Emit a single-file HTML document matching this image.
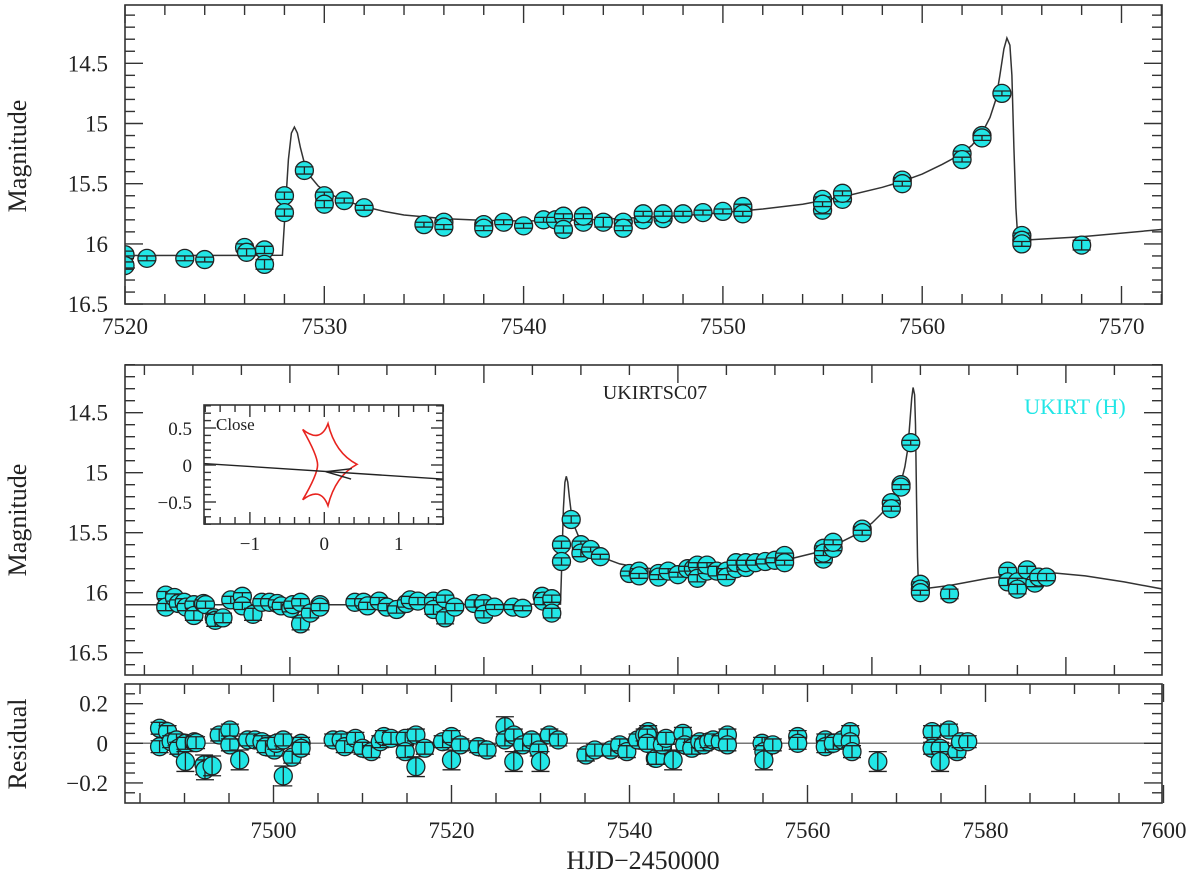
<!DOCTYPE html>
<html><head><meta charset="utf-8"><title>UKIRTSC07 light curve</title>
<style>
html,body{margin:0;padding:0;background:#fff;}
svg{display:block;font-family:"Liberation Serif",serif;}
</style></head>
<body>
<svg id="chart" width="1200" height="879" viewBox="0 0 1200 879" xmlns="http://www.w3.org/2000/svg">
<defs>
<clipPath id="clipTop"><rect x="125" y="5" width="1037" height="299"/></clipPath>
<clipPath id="clipMid"><rect x="125" y="365" width="1037" height="310"/></clipPath>
<clipPath id="clipRes"><rect x="125" y="684" width="1037" height="119"/></clipPath>
<clipPath id="clipIn"><rect x="204" y="405" width="239" height="119"/></clipPath>
</defs>
<g id="gTop"></g>
<g id="gMid"></g>
<g id="gRes"></g>
<g id="gIn"></g>
<text x="0" y="0" transform="translate(26,156) rotate(-90)" text-anchor="middle" font-size="26" fill="#222">Magnitude</text>
<text x="0" y="0" transform="translate(26,520) rotate(-90)" text-anchor="middle" font-size="26" fill="#222">Magnitude</text>
<text x="0" y="0" transform="translate(26,744) rotate(-90)" text-anchor="middle" font-size="26" fill="#222">Residual</text>
<text x="643" y="869" text-anchor="middle" font-size="26" fill="#222">HJD−2450000</text>
<text x="655" y="399" text-anchor="middle" font-size="20" fill="#222">UKIRTSC07</text>
<text x="1075" y="414" text-anchor="middle" font-size="22" fill="#22e6e6">UKIRT (H)</text>
</svg>
<script>
// ---------- data ----------
const magT = [7487.2,7487.2,7488.1,7488.5,7489.1,7489.3,7490.1,7490.1,7491.1,7491.3,7492.2,7492.3,7493.1,7493.9,7495.1,7495.1,7496.2,7497.1,7497.9,7498.7,7499.1,7500.1,7500.3,7501.1,7501.1,7502.1,7503.1,7503.1,7506.7,7507.6,7508.0,7509.2,7510.0,7511.0,7512.0,7512.4,7513.2,7514.8,7514.8,7516.0,7516.0,7517.0,7519.0,
7520,7520,7521.1,7523,7524,7526,7526.1,7527,7527,7528,7528,7529,7530,7530,7531,7532,7535,7536,7536,7538,7538,7539,7540,7541,7541.6,7542,7542,7543,7543,7544,7545,7545,7546,7546,7547,7547,7548,7549,7550,7551,7551,7551,7555,7555,7555,7556,7556,7559,7559,7562,7562,7563,7563,7564,7565,7565,7565,7568,
7574,7574,7575,7575,7576,7576.8,7577.2,7578];
const magV = [16.02,16.12,16.04,16.09,16.08,16.12,16.10,16.19,16.09,16.10,16.21,16.23,16.21,16.06,16.03,16.11,16.18,16.08,16.08,16.09,16.11,16.13,16.10,16.08,16.26,16.17,16.10,16.12,16.08,16.08,16.11,16.07,16.12,16.14,16.09,16.06,16.07,16.07,16.14,16.05,16.21,16.12,16.09,
16.09,16.18,16.12,16.12,16.13,16.03,16.07,16.05,16.17,15.60,15.74,15.39,15.60,15.67,15.64,15.70,15.84,15.82,15.86,15.84,15.87,15.82,15.85,15.80,15.80,15.77,15.88,15.82,15.77,15.82,15.82,15.87,15.80,15.75,15.79,15.75,15.75,15.74,15.73,15.72,15.69,15.75,15.72,15.63,15.67,15.63,15.58,15.47,15.50,15.25,15.30,15.10,15.12,14.75,15.93,15.97,16.00,16.01,
15.82,15.91,15.91,15.97,15.81,15.92,15.87,15.87];
const magE = [0.03,0.03,0.03,0.03,0.03,0.03,0.03,0.04,0.03,0.03,0.04,0.05,0.04,0.03,0.03,0.03,0.05,0.03,0.03,0.03,0.03,0.03,0.03,0.03,0.05,0.04,0.03,0.03,0.03,0.03,0.03,0.03,0.03,0.03,0.03,0.03,0.03,0.03,0.04,0.03,0.05,0.03,0.03,
0.03,0.03,0.02,0.02,0.02,0.03,0.03,0.03,0.04,0.03,0.03,0.03,0.03,0.03,0.02,0.02,0.02,0.02,0.02,0.02,0.02,0.02,0.02,0.02,0.02,0.02,0.03,0.02,0.02,0.04,0.02,0.02,0.02,0.02,0.02,0.02,0.02,0.02,0.02,0.02,0.02,0.02,0.03,0.02,0.02,0.02,0.02,0.02,0.02,0.02,0.02,0.02,0.02,0.02,0.02,0.02,0.02,0.04,
0.03,0.03,0.03,0.04,0.03,0.03,0.03,0.03];
const resT = [7487.2,7487.2,7488.1,7488.5,7489.1,7489.3,7490.1,7490.1,7491.1,7491.3,7492.2,7492.3,7493.1,7493.9,7495.1,7495.1,7496.2,7497.1,7497.9,7498.7,7499.1,7500.1,7500.3,7501.1,7501.1,7502.1,7503.1,7503.1,7506.7,7507.6,7508.0,7509.2,7510.0,7511.0,7512.0,7512.4,7513.2,7514.8,7514.8,7516.0,7516.0,7517.0,7519.0,7520.0,7520.0,7521.0,7523.0,7524.0,
7526,7526,7527,7527,7528,7529,7529.8,7530,7531,7532,7535.1,7536.1,7537.9,7538.9,7539.7,7540.9,7541.7,7542.1,7542.9,7543.7,
7542,7542,7543,7543.7,7544.1,7544.9,7546,7546.2,7547,7547.9,7548.3,7548.9,7549.4,7550.2,7551,7551,7554.9,7555.1,7555.1,7556.1,7558.9,7558.9,7562,7562,7562.9,7563.9,7564.8,7564.8,7565,7567.9,7574,7574,7574.9,7574.9,7575.9,7576.8,7577.2,7578];
const resV = [0.076,-0.017,0.059,0.008,0.017,-0.025,0.0,-0.092,0.008,0.003,-0.109,-0.134,-0.114,0.042,0.067,-0.008,-0.084,0.017,0.017,0.008,-0.017,-0.034,0.0,0.017,-0.165,-0.07,0.0,-0.025,0.017,0.017,-0.017,0.025,-0.025,-0.042,0.008,0.034,0.025,0.025,-0.042,0.042,-0.118,-0.025,0.008,0.034,-0.084,-0.008,-0.017,-0.034,
0.084,0.017,0.042,-0.092,-0.008,0.017,-0.034,-0.092,0.042,0.017,-0.059,-0.034,-0.034,-0.008,-0.042,0.017,0.042,0.059,-0.076,-0.025,
0.042,0.0,-0.076,-0.008,0.025,-0.084,0.05,-0.008,-0.025,0.008,-0.008,0.008,0.017,0.008,0.042,-0.008,0.0,-0.042,-0.084,-0.008,0.034,0.0,0.017,-0.017,0.0,0.017,0.059,0.008,-0.042,-0.092,0.059,-0.025,-0.025,-0.092,0.067,-0.042,0.008,0.008];
const resE = resV.map(v => Math.abs(v) > 0.08 ? 0.05 : 0.03);
const modelT = [7483,7510,7527.9,7528.05,7528.2,7528.35,7528.5,7528.65,7528.8,7529,7529.3,7529.7,7530.2,7531,7532,7533,7534,7536,7538,7540,7542,7544,7546,7548,7550,7552,7554,7556,7558,7559,7560,7561,7562,7562.5,7563,7563.4,7563.7,7563.9,7564.1,7564.25,7564.4,7564.5,7564.6,7564.7,7564.8,7565,7568,7572,7576,7578,7582,7586,7590,7600];
const modelM = [16.10,16.10,16.095,15.7,15.3,15.08,15.03,15.08,15.2,15.33,15.44,15.52,15.58,15.64,15.69,15.73,15.76,15.79,15.805,15.81,15.805,15.795,15.78,15.765,15.74,15.71,15.67,15.61,15.53,15.48,15.42,15.34,15.25,15.18,15.08,14.95,14.8,14.6,14.38,14.29,14.35,14.6,15.2,15.7,15.97,15.97,15.94,15.88,15.84,15.83,15.86,15.91,15.97,16.05];
// inset caustic cusps (x, y) and trajectory
const causticX = [0.05,-0.29,-0.09,-0.29,0.05,0.44];
const causticY = [0.56,0.48,0.0,-0.47,-0.55,0.01];
const trajX = [-1.62,1.59];
const trajY = [0.02,-0.19];

// ---------- axis functions ----------
const xT = t => 125 + (t - 7520) * 19.93;
const yT = m => 63.3 + (m - 14.5) * 120.4;
const xM = t => 125 + (t - 7483) * 9.7;
const yM = m => 412.7 + (m - 14.5) * 120;
const xB = t => 273.5 + (t - 7500) * 8.9;
const yB = r => 743.3 - r * 198;
const xI = u => 324.3 + u * 74.4;
const yI = v => 465 - v * 74;

const NS = "http://www.w3.org/2000/svg";
function mk(parent, tag, attrs) {
  const e = document.createElementNS(NS, tag);
  for (const k in attrs) e.setAttribute(k, attrs[k]);
  parent.appendChild(e);
  return e;
}
const INK = "#333";

function frame(g, x0, y0, x1, y1, name) {
  const r = mk(g, "rect", {x:x0, y:y0, width:x1-x0, height:y1-y0, fill:"none", stroke:INK, "stroke-width":1.6});
  
  
}
function xticks(g, fx, from, to, minor, major, y0, y1, lenMaj, lenMin) {
  for (let v = from; v <= to + 1e-9; v += minor) {
    const x = fx(v);
    const isMaj = Math.abs(v / major - Math.round(v / major)) < 1e-6;
    const L = isMaj ? lenMaj : lenMin;
    const a = mk(g, "line", {x1:x, x2:x, y1:y1, y2:y1 - L, stroke:INK, "stroke-width":1.4});
    
    
    const b = mk(g, "line", {x1:x, x2:x, y1:y0, y2:y0 + L, stroke:INK, "stroke-width":1.4});
    
    
  }
}
function yticks(g, fy, from, to, step, major, x0, x1, lenMaj, lenMin) {
  const n = Math.round((to - from) / step);
  for (let i = 0; i <= n; i++) {
    const v = from + i * step;
    const y = fy(v);
    const isMaj = Math.abs(v / major - Math.round(v / major)) < 1e-6;
    const L = isMaj ? lenMaj : lenMin;
    const a = mk(g, "line", {x1:x0, x2:x0 + L, y1:y, y2:y, stroke:INK, "stroke-width":1.4});
    
    
    const b = mk(g, "line", {x1:x1, x2:x1 - L, y1:y, y2:y, stroke:INK, "stroke-width":1.4});
    
    
  }
}
function label(g, x, y, txt, anchor, size, name) {
  const t = mk(g, "text", {x:x, y:y, "text-anchor":anchor, "font-size":size, fill:"#222"});
  t.textContent = txt;
  
  
}
function modelPath(g, fx, fy, clip, name) {
  let d = "";
  for (let i = 0; i < modelT.length; i++) d += (i ? "L" : "M") + fx(modelT[i]).toFixed(1) + " " + fy(modelM[i]).toFixed(1);
  const p = mk(g, "path", {d:d, fill:"none", stroke:INK, "stroke-width":1.5, "clip-path":clip});
  
  
}
function points(g, T, V, E, fx, fy, scale, clip, tmin, tmax, name) {
  const pg = mk(g, "g", {"clip-path":clip});
  
  
  for (let i = 0; i < T.length; i++) {
    if (T[i] < tmin || T[i] > tmax) continue;
    const x = fx(T[i]), y = fy(V[i]), h = E[i] * scale;
    const c = mk(pg, "circle", {cx:x, cy:y, r:9, fill:"#22e6e6", stroke:"#222", "stroke-width":1.3});
    
    
    const bar = mk(pg, "path", {d:`M${x} ${y-h}V${y+h}M${x-9} ${y-h}H${x+9}M${x-9} ${y+h}H${x+9}`, stroke:"#222", "stroke-width":1.3, fill:"none"});
    
    
  }
}

// ---------- top panel ----------
const gT = document.getElementById("gTop");
modelPath(gT, xT, yT, "url(#clipTop)", "top-model-curve");
points(gT, magT, magV, magE, xT, yT, 120.4, "url(#clipTop)", 7519, 7573, "top-data-points");
frame(gT, 125, 5, 1162, 304, "top-frame");
xticks(gT, xT, 7520, 7572, 2, 10, 5, 304, 18, 10);
yticks(gT, yT, 14.1, 16.5, 0.1, 0.5, 125, 1162, 18, 10);
[14.5, 15, 15.5, 16, 16.5].forEach(v => label(gT, 108, yT(v) + 8, String(v), "end", 23, "top-y-tick-label"));
[7520, 7530, 7540, 7550, 7560, 7570].forEach(v => label(gT, xT(v), 334, String(v), "middle", 23, "top-x-tick-label"));

// ---------- middle panel ----------
const gM = document.getElementById("gMid");
modelPath(gM, xM, yM, "url(#clipMid)", "middle-model-curve");
points(gM, magT, magV, magE, xM, yM, 120, "url(#clipMid)", 7480, 7595, "middle-data-points");
frame(gM, 125, 365, 1162, 675, "middle-frame");
xticks(gM, xM, 7485, 7585, 5, 20, 365, 675, 18, 10);
yticks(gM, yM, 14.1, 16.6, 0.1, 0.5, 125, 1162, 18, 10);
[14.5, 15, 15.5, 16, 16.5].forEach(v => label(gM, 108, yM(v) + 8, String(v), "end", 23, "middle-y-tick-label"));

// ---------- residual panel ----------
const gR = document.getElementById("gRes");
const zl = mk(gR, "line", {x1:125, x2:1162, y1:yB(0), y2:yB(0), stroke:"#777", "stroke-width":1.5});


points(gR, resT, resV, resE, xB, yB, 198, "url(#clipRes)", 7480, 7600, "residual-points");
frame(gR, 125, 684, 1162, 803, "residual-frame");
xticks(gR, xB, 7485, 7600, 5, 20, 684, 803, 18, 10);
yticks(gR, yB, -0.25, 0.25, 0.05, 0.2, 125, 1162, 18, 10);
[[0.2,"0.2"],[0,"0"],[-0.2,"−0.2"]].forEach(p => label(gR, 108, yB(p[0]) + 8, p[1], "end", 23, "residual-y-tick-label"));
[7500, 7520, 7540, 7560, 7580, 7600].forEach(v => label(gR, xB(v), 838, String(v), "middle", 23, "x-tick-label"));

// ---------- inset ----------
const gI = document.getElementById("gIn");
mk(gI, "rect", {x:204, y:405, width:239, height:119, fill:"#fff"});
let cd = "";
const cx0 = 0.03, cy0 = 0.0;
for (let i = 0; i < causticX.length; i++) {
  const j = (i + 1) % causticX.length;
  const mx = (causticX[i] + causticX[j]) / 2, my = (causticY[i] + causticY[j]) / 2;
  const qx = mx + (cx0 - mx) * 0.45, qy = my + (cy0 - my) * 0.45;
  if (i === 0) cd += `M${xI(causticX[i]).toFixed(1)} ${yI(causticY[i]).toFixed(1)}`;
  cd += `Q${xI(qx).toFixed(1)} ${yI(qy).toFixed(1)} ${xI(causticX[j]).toFixed(1)} ${yI(causticY[j]).toFixed(1)}`;
}
const cau = mk(gI, "path", {d:cd + "Z", fill:"none", stroke:"#e8231e", "stroke-width":1.6, "clip-path":"url(#clipIn)"});


const tr = mk(gI, "line", {x1:xI(trajX[0]), y1:yI(trajY[0]), x2:xI(trajX[1]), y2:yI(trajY[1]), stroke:"#222", "stroke-width":1.4});


const ar = mk(gI, "path", {d:`M${xI(0.37)} ${yI(-0.05)}L${xI(0.02)} ${yI(-0.09)}L${xI(0.36)} ${yI(-0.19)}`, fill:"none", stroke:"#222", "stroke-width":1.4});


frame(gI, 204, 405, 443, 524, "inset-frame");
xticks(gI, xI, -1.6, 1.6, 0.2, 1, 405, 524, 12, 7);
yticks(gI, yI, -0.8, 0.8, 0.1, 0.5, 204, 443, 12, 7);
[[0.5,"0.5"],[0,"0"],[-0.5,"−0.5"]].forEach(p => label(gI, 192, yI(p[0]) + 7, p[1], "end", 19, "inset-y-tick-label"));
[[-1,"−1"],[0,"0"],[1,"1"]].forEach(p => label(gI, xI(p[0]), 550, p[1], "middle", 19, "inset-x-tick-label"));
label(gI, 216, 430, "Close", "start", 17, "inset-title-close");
</script>
</body></html>
